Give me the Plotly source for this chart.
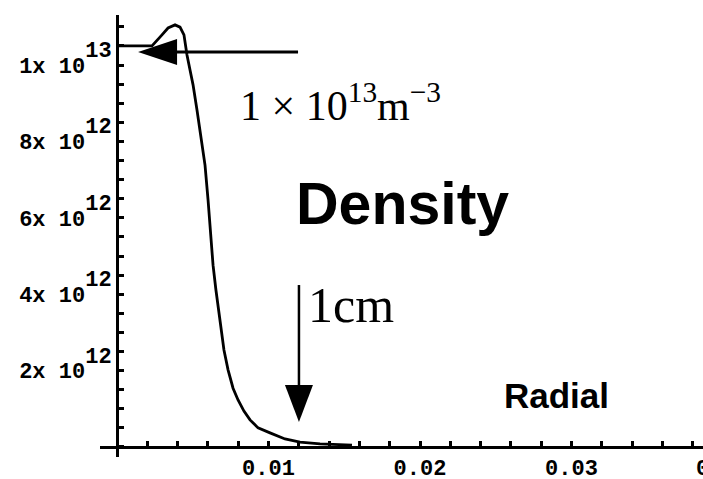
import plotly.graph_objects as go

# Radial density profile (m^-3) against radius (m)
radius = [0.0, 0.00231, 0.00297, 0.00337, 0.00383, 0.00416, 0.00442, 0.00462,
          0.00482, 0.00502, 0.00528, 0.00554, 0.00581, 0.00601, 0.0062, 0.00634,
          0.00653, 0.0068, 0.00706, 0.00733, 0.00766, 0.00799, 0.00838, 0.00878,
          0.00931, 0.0101, 0.01109, 0.01208, 0.0134, 0.01551]
density = [10.50e12, 10.50e12, 10.79e12, 10.97e12, 11.05e12, 10.99e12, 10.79e12,
           10.26e12, 9.87e12, 9.48e12, 8.82e12, 8.04e12, 7.38e12, 6.47e12, 5.42e12,
           4.76e12, 4.11e12, 3.32e12, 2.54e12, 2.02e12, 1.54e12, 1.23e12, 0.94e12,
           0.71e12, 0.50e12, 0.37e12, 0.21e12, 0.13e12, 0.08e12, 0.05e12]

x_tickvals = [0.01, 0.02, 0.03]
x_ticktext = ["0.01", "0.02", "0.03"]
y_tickvals = [2e12, 4e12, 6e12, 8e12, 1e13]
y_mantissa = ["2", "4", "6", "8", "1"]
y_exponent = ["12", "12", "12", "12", "13"]

W, H = 703, 479
X_RANGE = [-0.001122, 0.03868]
Y_RANGE = [-0.262e12, 11.309e12]
X_DOMAIN = [100 / W, 1.0]
Y_DOMAIN = [22 / H, 464 / H]

TICK_SIZE = 22
tick_font = dict(family="Liberation Mono", size=TICK_SIZE, color="black", weight="bold")

# Exponents set at full size and raised high, as in the mathematica-style labels
y_ticktext = [f"{m}x 10<sup><sup><span style='font-size:{TICK_SIZE}px'>{e}</span></sup></sup>"
              for m, e in zip(y_mantissa, y_exponent)]

fig = go.Figure()
fig.add_trace(go.Scatter(x=radius, y=density, mode="lines",
                         line=dict(color="black", width=2.8),
                         showlegend=False, hoverinfo="skip"))


def x_to_paper(v):
    f = (v - X_RANGE[0]) / (X_RANGE[1] - X_RANGE[0])
    return X_DOMAIN[0] + f * (X_DOMAIN[1] - X_DOMAIN[0])


def y_to_paper(v):
    f = (v - Y_RANGE[0]) / (Y_RANGE[1] - Y_RANGE[0])
    return Y_DOMAIN[0] + f * (Y_DOMAIN[1] - Y_DOMAIN[0])


fig.update_layout(
    width=W, height=H,
    margin=dict(l=0, r=0, t=0, b=0),
    paper_bgcolor="white", plot_bgcolor="white",
    xaxis=dict(domain=X_DOMAIN, range=X_RANGE, anchor="free",
               position=y_to_paper(0), showgrid=False, zeroline=False,
               showline=True, linecolor="black", linewidth=3,
               tickmode="array", tickvals=x_tickvals, ticktext=x_ticktext,
               ticks="inside", ticklen=5, tickwidth=2.5, tickcolor="black",
               minor=dict(dtick=0.002, tick0=0, ticks="inside", ticklen=5,
                          tickwidth=2.5, tickcolor="black", showgrid=False),
               tickfont=tick_font, ticklabelstandoff=0, automargin=False),
    yaxis=dict(domain=Y_DOMAIN, range=Y_RANGE, anchor="free",
               position=x_to_paper(0), showgrid=False, zeroline=False,
               showline=True, linecolor="black", linewidth=3,
               tickmode="array", tickvals=y_tickvals, ticktext=y_ticktext,
               ticks="inside", ticklen=5, tickwidth=2.5, tickcolor="black",
               minor=dict(dtick=0.5e12, tick0=0, ticks="inside", ticklen=5,
                          tickwidth=2.5, tickcolor="black", showgrid=False),
               tickfont=tick_font, ticklabelstandoff=0, automargin=False),
)

# Tick label of 0.04, whose tick lies just past the right edge
fig.add_annotation(x=x_to_paper(0.04), y=y_to_paper(0), xref="paper", yref="paper",
                   text="0.04", showarrow=False, font=tick_font,
                   xanchor="center", yanchor="top", yshift=-8)

# Arrow pointing at the plateau density
fig.add_shape(type="line", xref="x", yref="y", x0=0.0030, x1=0.01195,
              y0=10.34e12, y1=10.34e12, line=dict(color="black", width=3))
fig.add_shape(type="path", xref="x", yref="y", xsizemode="pixel", ysizemode="pixel",
              xanchor=0.00139, yanchor=10.34e12, path="M0,0 L39,13 L39,-13 Z",
              fillcolor="black", line=dict(width=0))

# Arrow marking 1 cm
fig.add_shape(type="line", xref="x", yref="y", x0=0.01201, x1=0.01201,
              y0=4.24e12, y1=1.5e12, line=dict(color="black", width=2.5))
fig.add_shape(type="path", xref="x", yref="y", xsizemode="pixel", ysizemode="pixel",
              xanchor=0.01201, yanchor=0.654e12, path="M0,0 L-14,37 L14,37 Z",
              fillcolor="black", line=dict(width=0))

serif = "Liberation Serif"
sans = "Liberation Sans"
fig.add_annotation(x=0.00799, y=9.02e12, xref="x", yref="y",
                   text="1 × 10<sup>13</sup>m<sup>−3</sup>", showarrow=False,
                   xanchor="left", yanchor="middle",
                   font=dict(family=serif, size=42, color="black"))
fig.add_annotation(x=0.01885, y=6.36e12, xref="x", yref="y", text="Density",
                   showarrow=False, xanchor="center", yanchor="middle",
                   font=dict(family=sans, size=59, color="black", weight="bold"))
fig.add_annotation(x=0.01248, y=3.72e12, xref="x", yref="y", text="1cm",
                   showarrow=False, xanchor="left", yanchor="middle",
                   font=dict(family=serif, size=50, color="black"))
fig.add_annotation(x=0.02898, y=1.36e12, xref="x", yref="y", text="Radial",
                   showarrow=False, xanchor="center", yanchor="middle",
                   font=dict(family=sans, size=35, color="black", weight="bold"))

fig.write_html("out.html")
